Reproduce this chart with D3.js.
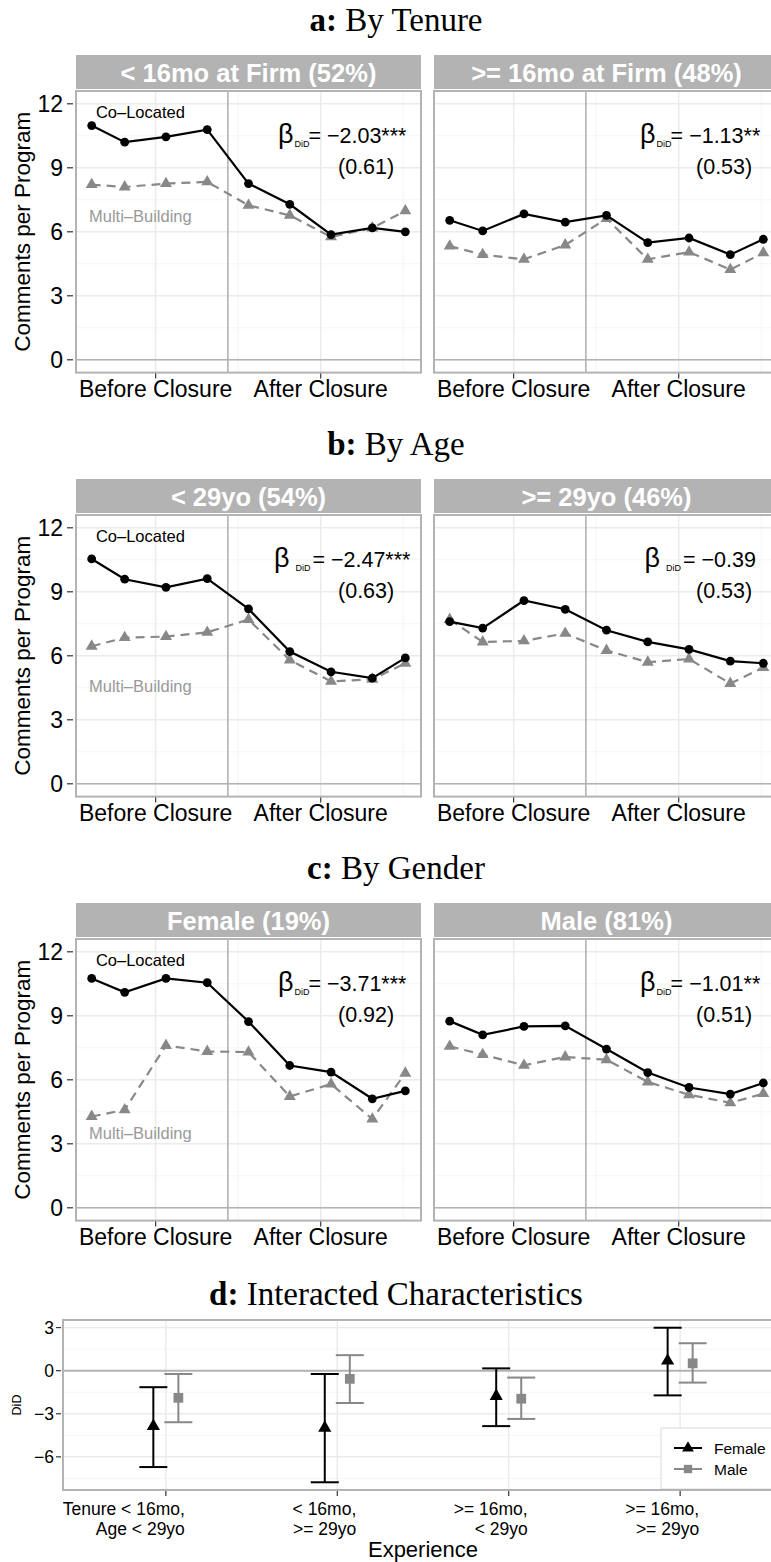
<!DOCTYPE html>
<html><head><meta charset="utf-8">
<script src="https://cdn.jsdelivr.net/npm/d3@7"></script>
<style>body{margin:0;background:#fff}svg{display:block}</style>
</head><body><div id="chart"></div>
<script>
// ---------- data ----------
const periods = [-3.3, -2.5, -1.5, -0.5, 0.5, 1.5, 2.5, 3.5, 4.3];
const closurePeriod = 0;
const xBreaks = [-1.75, 2.25];
const xBreakLabels = ["Before Closure", "After Closure"];
const xMinorBreaks = [0.25, 4.25];
const yTicks = [0, 3, 6, 9, 12];
const yMinorTicks = [1.5, 4.5, 7.5, 10.5];

const sectionBold = ["a:", "b:", "c:", "d:"];
const sectionTitles = [" By Tenure", " By Age", " By Gender", " Interacted Characteristics"];
const stripLabels = [
  ["< 16mo at Firm (52%)", ">= 16mo at Firm (48%)"],
  ["< 29yo (54%)", ">= 29yo (46%)"],
  ["Female (19%)", "Male (81%)"]
];

const coTenureLow   = [10.98, 10.20, 10.45, 10.79, 8.26, 7.29, 5.87, 6.18, 6.00];
const multiTenureLow= [8.21, 8.10, 8.26, 8.34, 7.24, 6.77, 5.76, 6.18, 6.98];
const coTenureHigh  = [6.54, 6.04, 6.84, 6.45, 6.77, 5.49, 5.71, 4.93, 5.65];
const multiTenureHigh=[5.33, 4.93, 4.71, 5.38, 6.62, 4.71, 5.05, 4.23, 5.01];
const coAgeLow      = [10.54, 9.59, 9.21, 9.62, 8.20, 6.20, 5.25, 4.95, 5.90];
const multiAgeLow   = [6.45, 6.85, 6.90, 7.10, 7.70, 5.80, 4.80, 4.90, 5.65];
const coAgeHigh     = [7.60, 7.30, 8.59, 8.18, 7.20, 6.65, 6.30, 5.75, 5.65];
const multiAgeHigh  = [7.70, 6.65, 6.70, 7.05, 6.25, 5.70, 5.85, 4.70, 5.45];
const coFemale      = [10.75, 10.10, 10.75, 10.55, 8.73, 6.67, 6.36, 5.11, 5.48];
const multiFemale   = [4.28, 4.59, 7.61, 7.33, 7.30, 5.22, 5.80, 4.16, 6.31];
const coMale        = [8.75, 8.11, 8.50, 8.53, 7.44, 6.34, 5.64, 5.33, 5.85];
const multiMale     = [7.57, 7.18, 6.68, 7.07, 6.94, 5.90, 5.30, 4.92, 5.35];

const didEstimates = [-2.03, -1.13, -2.47, -0.39, -3.71, -1.01];
const didSE        = ["0.61", "0.53", "0.63", "0.53", "0.92", "0.51"];
const didStars     = ["***", "**", "***", "", "***", "**"];
const multiLabelY  = [6.75, 4.6, 3.5];

const interactLabels = [["Tenure < 16mo,", "Age < 29yo"], ["< 16mo,", ">= 29yo"], [">= 16mo,", "< 29yo"], [">= 16mo,", ">= 29yo"]];
const femaleEst = [-3.86, -3.98, -1.77, 0.69];
const femaleLo  = [-6.71, -7.77, -3.86, -1.72];
const femaleHi  = [-1.15, -0.23, 0.16, 2.99];
const maleEst   = [-1.89, -0.57, -1.95, 0.51];
const maleLo    = [-3.59, -2.25, -3.36, -0.83];
const maleHi    = [-0.23, 1.08, -0.48, 1.91];
const dTicks = [-6, -3, 0, 3];
const dMinorTicks = [-7.5, -4.5, -1.5, 1.5];
const legendLabels = ["Female", "Male"];

const panelSeries = [
  [[coTenureLow, multiTenureLow], [coTenureHigh, multiTenureHigh]],
  [[coAgeLow, multiAgeLow], [coAgeHigh, multiAgeHigh]],
  [[coFemale, multiFemale], [coMale, multiMale]]
];

// ---------- layout ----------
const W = 771, H = 1562;
const colX = [76, 434], panelW = 345, panelH = 281.6;
const rowTop = [91, 515, 939];
const stripH = 34, stripGap = 2;
const GREY = "#b3b3b3", GRID = "#ebebeb", GRIDMINOR = "#f5f5f5";
const MULTI = "#888888", MULTITXT = "#999999";
const SANS = "'Liberation Sans', Arial, Helvetica, sans-serif";
const SERIF = "'Liberation Serif', 'Times New Roman', serif";
const fmt = d3.format(".2f");
const fmtTick = d3.format("d");

const svg = d3.select("#chart").append("svg")
  .attr("width", W).attr("height", H)
  .style("font-family", SANS);
svg.append("rect").attr("width", W).attr("height", H).attr("fill", "#fff");

function title(i, baseY) {
  const t = svg.append("text").attr("x", 396).attr("y", baseY)
    .attr("text-anchor", "middle").attr("font-family", SERIF)
    .attr("font-size", 33).attr("fill", "#000");
  t.append("tspan").attr("font-weight", "bold").text(sectionBold[i]);
  t.append("tspan").text(sectionTitles[i]);
}

const ext = d3.extent(periods);
const pad = (ext[1] - ext[0]) * 0.05;
const xDom = [ext[0] - pad, ext[1] + pad];

function betaText(g, cx, baseY, est, stars, spaced) {
  const t = g.append("text").attr("x", cx).attr("y", baseY)
    .attr("text-anchor", "middle").attr("font-size", 21.5).attr("fill", "#000");
  t.append("tspan").attr("font-size", 27).text("β");
  t.append("tspan").attr("font-size", 9).attr("dy", 4).attr("dx", spaced ? 6 : 1).text("DiD");
  t.append("tspan").attr("dy", -4).attr("dx", spaced ? 2 : -1).text("=");
  t.append("tspan").text(" " + fmt(est).replace("-", "−") + stars);
}

for (let r = 0; r < 3; r++) {
  title(r, rowTop[r] - stripH - stripGap - 24);
  for (let c = 0; c < 2; c++) {
    const px = colX[c], py = rowTop[r];
    const x = d3.scaleLinear().domain(xDom).range([px, px + panelW]);
    const y = d3.scaleLinear().domain([-0.6, 12.6]).range([py + panelH, py]);
    const g = svg.append("g");
    const [co, multi] = panelSeries[r][c];
    const idx = r * 2 + c;

    g.append("rect").attr("x", px).attr("y", py).attr("width", panelW).attr("height", panelH).attr("fill", "#fff");
    // minor grid
    g.selectAll(null).data(yMinorTicks).join("line")
      .attr("x1", px).attr("x2", px + panelW).attr("y1", d => y(d)).attr("y2", d => y(d))
      .attr("stroke", GRIDMINOR).attr("stroke-width", 1);
    g.selectAll(null).data(xMinorBreaks.filter(d => d > xDom[0] && d < xDom[1])).join("line")
      .attr("y1", py).attr("y2", py + panelH).attr("x1", d => x(d)).attr("x2", d => x(d))
      .attr("stroke", GRIDMINOR).attr("stroke-width", 1);
    // major grid
    g.selectAll(null).data(yTicks).join("line")
      .attr("x1", px).attr("x2", px + panelW).attr("y1", d => y(d)).attr("y2", d => y(d))
      .attr("stroke", GRID).attr("stroke-width", 1.5);
    g.selectAll(null).data(xBreaks).join("line")
      .attr("y1", py).attr("y2", py + panelH).attr("x1", d => x(d)).attr("x2", d => x(d))
      .attr("stroke", GRID).attr("stroke-width", 1.5);
    // reference lines
    g.append("line").attr("x1", px).attr("x2", px + panelW).attr("y1", y(0)).attr("y2", y(0))
      .attr("stroke", GREY).attr("stroke-width", 1.6);
    g.append("line").attr("x1", x(closurePeriod)).attr("x2", x(closurePeriod)).attr("y1", py).attr("y2", py + panelH)
      .attr("stroke", GREY).attr("stroke-width", 1.6);

    // series
    const line = d3.line().x((d, i) => x(periods[i])).y(d => y(d));
    g.append("path").attr("d", line(multi)).attr("fill", "none")
      .attr("stroke", MULTI).attr("stroke-width", 2.2).attr("stroke-dasharray", "9,6");
    g.selectAll(null).data(multi).join("path")
      .attr("d", d3.symbol(d3.symbolTriangle, 62)())
      .attr("transform", (d, i) => `translate(${x(periods[i])},${y(d)})`)
      .attr("fill", MULTI);
    g.append("path").attr("d", line(co)).attr("fill", "none")
      .attr("stroke", "#000").attr("stroke-width", 2.2);
    g.selectAll(null).data(co).join("circle")
      .attr("cx", (d, i) => x(periods[i])).attr("cy", d => y(d)).attr("r", 4.4).attr("fill", "#000");

    // series labels
    if (c === 0) {
      g.append("text").attr("x", x(-2.12)).attr("y", y(11.6) + 6).attr("text-anchor", "middle")
        .attr("font-size", 16.5).attr("fill", "#000").text("Co–Located");
      g.append("text").attr("x", x(-2.12)).attr("y", y(multiLabelY[r]) + 6).attr("text-anchor", "middle")
        .attr("font-size", 16.5).attr("fill", MULTITXT).text("Multi–Building");
    }
    // DiD annotation
    betaText(g, x(2.77), y(10.15), didEstimates[idx], didStars[idx], r === 1);
    g.append("text").attr("x", x(3.35)).attr("y", y(8.72)).attr("text-anchor", "middle")
      .attr("font-size", 21.5).attr("fill", "#000").text("(" + didSE[idx] + ")");

    // border
    g.append("rect").attr("x", px).attr("y", py).attr("width", panelW).attr("height", panelH)
      .attr("fill", "none").attr("stroke", GREY).attr("stroke-width", 2);

    // strip
    g.append("rect").attr("x", px).attr("y", py - stripGap - stripH).attr("width", panelW).attr("height", stripH)
      .attr("fill", GREY);
    g.append("text").attr("x", px + panelW / 2).attr("y", py - stripGap - stripH + 27)
      .attr("text-anchor", "middle").attr("font-size", 25.5).attr("font-weight", "bold")
      .attr("fill", "#fff").text(stripLabels[r][c]);

    // x axis
    g.selectAll(null).data(xBreaks).join("line")
      .attr("x1", d => x(d)).attr("x2", d => x(d)).attr("y1", py + panelH + 1).attr("y2", py + panelH + 6)
      .attr("stroke", "#333").attr("stroke-width", 1.2);
    g.selectAll(null).data(xBreaks).join("text")
      .attr("x", d => x(d)).attr("y", py + panelH + 24.5).attr("text-anchor", "middle")
      .attr("font-size", 23).attr("fill", "#000").text((d, i) => xBreakLabels[i]);
    // y axis
    if (c === 0) {
      g.selectAll(null).data(yTicks).join("line")
        .attr("x1", px - 9).attr("x2", px - 3).attr("y1", d => y(d)).attr("y2", d => y(d))
        .attr("stroke", "#333").attr("stroke-width", 1.2);
      g.selectAll(null).data(yTicks).join("text")
        .attr("x", px - 13).attr("y", d => y(d) + 8).attr("text-anchor", "end")
        .attr("font-size", 23).attr("fill", "#000").text(d => fmtTick(d));
      g.append("text").attr("transform", `translate(30,${py + panelH / 2}) rotate(-90)`)
        .attr("text-anchor", "middle").attr("font-size", 22.5).attr("fill", "#000")
        .text("Comments per Program");
    }
  }
}

// ---------- panel d ----------
title(3, 1305);
{
  const px = 63, py = 1320, pw = 720, ph = 170;
  const allV = femaleLo.concat(femaleHi, maleLo, maleHi);
  const e = d3.extent(allV), p = (e[1] - e[0]) * 0.05;
  const x = d3.scaleLinear().domain([0.4, interactLabels.length + 0.6]).range([px, px + pw]);
  const y = d3.scaleLinear().domain([e[0] - p, e[1] + p]).range([py + ph, py]);
  const g = svg.append("g");
  const pos = interactLabels.map((d, i) => i + 1);
  const dodge = 0.073;

  g.append("rect").attr("x", px).attr("y", py).attr("width", pw).attr("height", ph).attr("fill", "#fff");
  g.selectAll(null).data(dMinorTicks).join("line")
    .attr("x1", px).attr("x2", px + pw).attr("y1", d => y(d)).attr("y2", d => y(d))
    .attr("stroke", GRIDMINOR).attr("stroke-width", 1);
  g.selectAll(null).data(dTicks).join("line")
    .attr("x1", px).attr("x2", px + pw).attr("y1", d => y(d)).attr("y2", d => y(d))
    .attr("stroke", GRID).attr("stroke-width", 1.5);
  g.selectAll(null).data(pos).join("line")
    .attr("y1", py).attr("y2", py + ph).attr("x1", d => x(d)).attr("x2", d => x(d))
    .attr("stroke", GRID).attr("stroke-width", 1.5);
  g.append("line").attr("x1", px).attr("x2", px + pw).attr("y1", y(0)).attr("y2", y(0))
    .attr("stroke", GREY).attr("stroke-width", 2);

  function errs(est, lo, hi, off, color, shape, size) {
    const xs = pos.map(d => x(d + off));
    g.selectAll(null).data(est).join("line")
      .attr("x1", (d, i) => xs[i]).attr("x2", (d, i) => xs[i])
      .attr("y1", (d, i) => y(lo[i])).attr("y2", (d, i) => y(hi[i]))
      .attr("stroke", color).attr("stroke-width", 2);
    [lo, hi].forEach(arr => {
      g.selectAll(null).data(arr).join("line")
        .attr("x1", (d, i) => xs[i] - 14).attr("x2", (d, i) => xs[i] + 14)
        .attr("y1", d => y(d)).attr("y2", d => y(d))
        .attr("stroke", color).attr("stroke-width", 2);
    });
    g.selectAll(null).data(est).join("path")
      .attr("d", d3.symbol(shape, size)())
      .attr("transform", (d, i) => `translate(${xs[i]},${y(d)})`)
      .attr("fill", color);
  }
  errs(femaleEst, femaleLo, femaleHi, -dodge, "#000", d3.symbolTriangle, 75);
  errs(maleEst, maleLo, maleHi, dodge, MULTI, d3.symbolSquare, 95);

  // legend
  const lg = g.append("g");
  lg.append("rect").attr("x", 661).attr("y", 1428).attr("width", 130).attr("height", 61)
    .attr("fill", "#fff").attr("stroke", "#d9d9d9").attr("stroke-width", 1);
  const legColors = ["#000", MULTI], legShapes = [d3.symbolTriangle, d3.symbolSquare], legSizes = [60, 70];
  legendLabels.forEach((lab, i) => {
    const cy = 1448 + i * 21;
    lg.append("line").attr("x1", 674).attr("x2", 702).attr("y1", cy).attr("y2", cy)
      .attr("stroke", legColors[i]).attr("stroke-width", 2);
    lg.append("path").attr("d", d3.symbol(legShapes[i], legSizes[i])())
      .attr("transform", `translate(688,${cy})`).attr("fill", legColors[i]);
    lg.append("text").attr("x", 714).attr("y", cy + 5.5).attr("font-size", 15.5).attr("fill", "#000").text(lab);
  });

  g.append("rect").attr("x", px).attr("y", py).attr("width", pw).attr("height", ph)
    .attr("fill", "none").attr("stroke", GREY).attr("stroke-width", 2);

  // axes
  g.selectAll(null).data(dTicks).join("line")
    .attr("x1", px - 7).attr("x2", px - 2).attr("y1", d => y(d)).attr("y2", d => y(d))
    .attr("stroke", "#333").attr("stroke-width", 1.2);
  g.selectAll(null).data(dTicks).join("text")
    .attr("x", px - 9).attr("y", d => y(d) + 6).attr("text-anchor", "end")
    .attr("font-size", 17.5).attr("fill", "#000").text(d => fmtTick(d));
  g.selectAll(null).data(pos).join("line")
    .attr("x1", d => x(d)).attr("x2", d => x(d)).attr("y1", py + ph + 1).attr("y2", py + ph + 6)
    .attr("stroke", "#333").attr("stroke-width", 1.2);
  interactLabels.forEach((lines, i) => {
    lines.forEach((ln, j) => {
      g.append("text").attr("x", x(pos[i]) + 19).attr("y", 1515 + j * 20)
        .attr("text-anchor", "end").attr("font-size", 17.5).attr("fill", "#000").text(ln);
    });
  });
  g.append("text").attr("x", px + pw / 2).attr("y", 1557).attr("text-anchor", "middle")
    .attr("font-size", 22).attr("fill", "#000").text("Experience");
  g.append("text").attr("transform", `translate(21,${py + ph / 2}) rotate(-90)`)
    .attr("text-anchor", "middle").attr("font-size", 12.5).attr("fill", "#000").text("DiD");
}
</script>
</body></html>
